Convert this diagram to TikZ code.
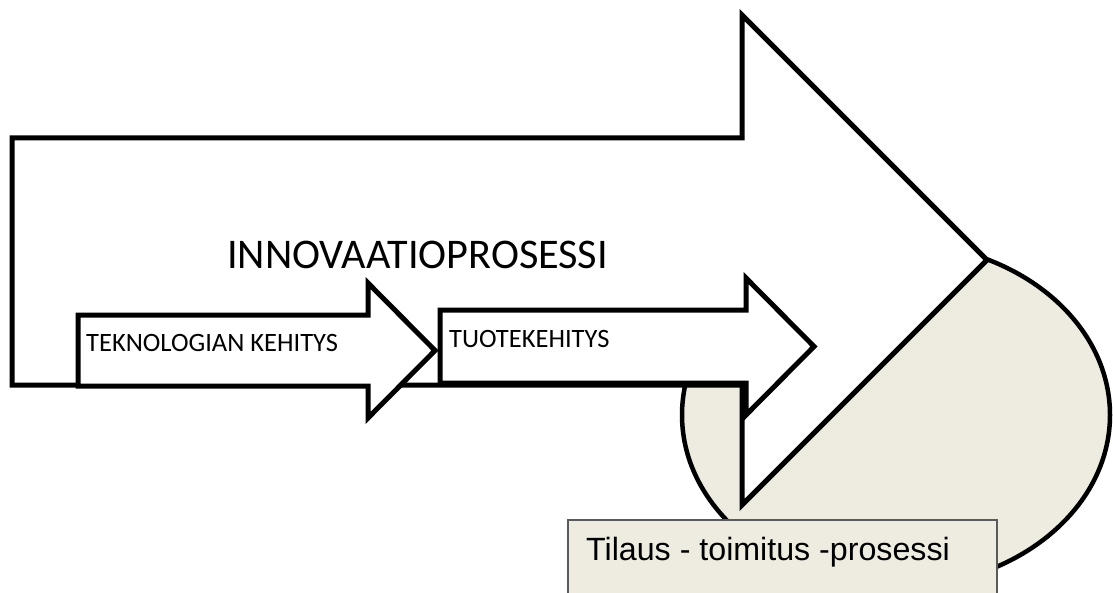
\documentclass[tikz,border=0pt]{standalone}
\usepackage{fontspec}
\setmainfont{Carlito}
\newfontfamily\boxfont{Liberation Sans}
\definecolor{paper}{HTML}{EEECE1}
\definecolor{boxline}{HTML}{5A5A5A}

\begin{document}
\begin{tikzpicture}[x=1bp, y=-1bp,
  arrowshape/.style={draw=black, line width=5bp, fill=white, line join=miter, miter limit=10},
  disc/.style={draw=black, line width=4.5bp, fill=paper},
  orderbox/.style={draw=boxline, line width=1.5bp, fill=paper},
  bigtext/.style={inner sep=0pt, anchor=base west, font=\fontsize{42.4}{50}\selectfont},
  smalltext/.style={inner sep=0pt, anchor=base west, font=\fontsize{26.6}{31}\selectfont},
  boxtext/.style={inner sep=0pt, anchor=base west, font=\boxfont\fontsize{32.3}{38}\selectfont}]
\useasboundingbox (0,0) rectangle (1113,593);

% order-delivery process disc behind the main arrow
\draw[disc] (896,415) ellipse [x radius=214, y radius=172];

% main innovation arrow
\draw[arrowshape] (12,138) -- (742,138) -- (742,15) -- (987,260) -- (742,505)
  -- (742,385) -- (12,385) -- cycle;

% technology development arrow
\draw[arrowshape] (78,315) -- (368,315) -- (368,283) -- (435,350.5) -- (368,418)
  -- (368,386) -- (78,386) -- cycle;

% product development arrow
\draw[arrowshape] (440,310) -- (746,310) -- (746,278) -- (814,346.5) -- (746,415)
  -- (746,383) -- (440,383) -- cycle;

% order-delivery label box
\draw[orderbox] (568,520) rectangle (997,600);

\node[bigtext] (innov) at (227,269) {INNOVAATIOPROSESSI};
\node[smalltext] (tech) at (86,351) {TEKNOLOGIAN KEHITYS};
\node[smalltext] (prod) at (449,347) {TUOTEKEHITYS};
\node[boxtext] (order) at (586,560) {Tilaus - toimitus -prosessi};
\end{tikzpicture}
\end{document}
